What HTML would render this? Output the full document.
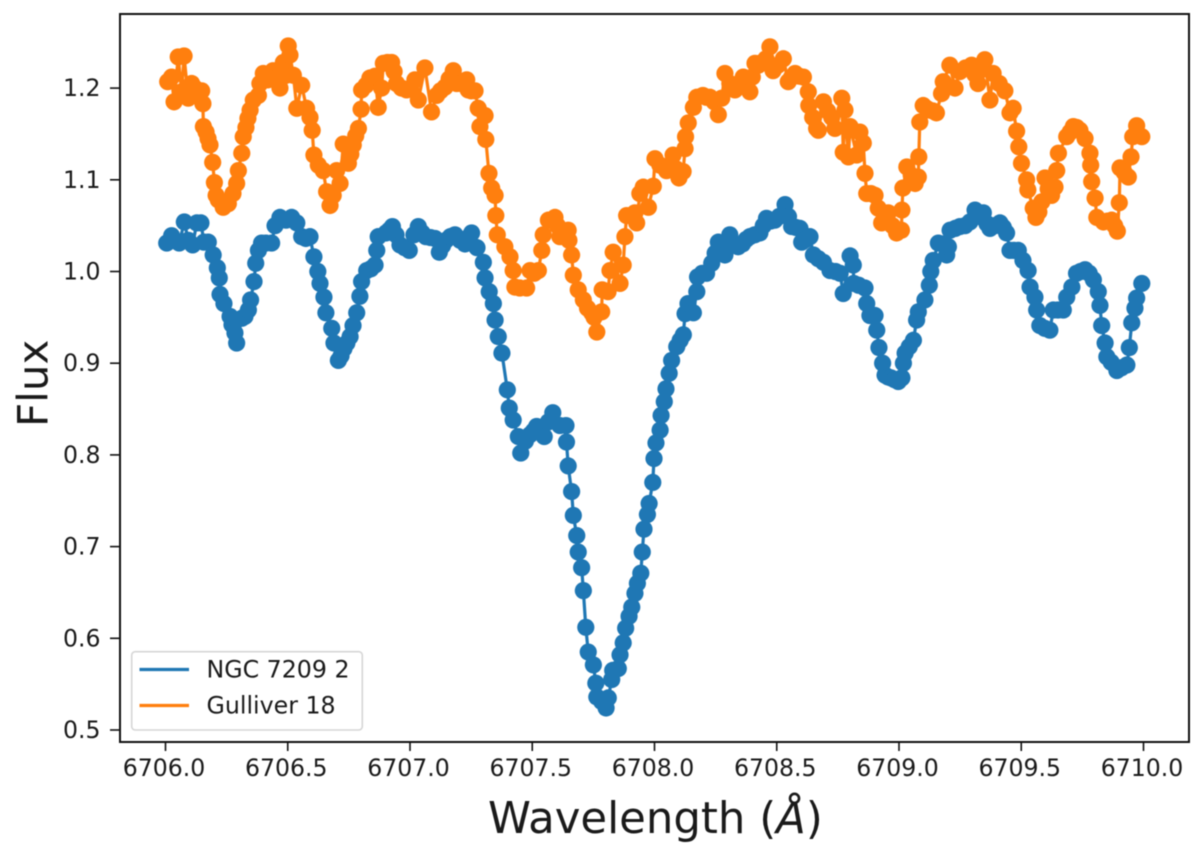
<!DOCTYPE html>
<html lang="en">
<head>
<meta charset="utf-8">
<title>Flux versus wavelength</title>
<style>
html,body{margin:0;padding:0;background:#fff;width:1200px;height:845px;overflow:hidden}
svg{display:block;position:absolute;left:0;top:0;filter:blur(0.5px)}
text{font-family:"DejaVu Sans","Liberation Sans",sans-serif;fill:#1a1a1a}
</style>
</head>
<body>
<svg id="chart" width="1200" height="845" viewBox="0 0 1200 845" xmlns="http://www.w3.org/2000/svg">
  <rect x="120" y="14" width="1069" height="728" fill="#fff"/>
  <g id="series-layer"></g>
  <rect x="120" y="14" width="1069" height="728" fill="none" stroke="#111" stroke-width="2"/>
  <g id="x-axis"></g>
  <g id="y-axis"></g>
  <text x="488" y="833" font-size="43.4" fill="#111">Wavelength (<tspan font-style="italic">Å</tspan>)</text>
  <text transform="translate(47.5 427) rotate(-90)" font-size="42" fill="#111">Flux</text>
  <g>
    <rect x="131.7" y="651.7" width="230.6" height="78.3" rx="3.5" fill="#fff" fill-opacity="0.8" stroke="#d6d6d6" stroke-width="1.6"/>
    <line x1="139.5" y1="669.5" x2="189" y2="669.5" stroke="#1f77b4" stroke-width="3.2"/>
    <text x="206.5" y="677.5" font-size="23.7">NGC 7209 2</text>
    <line x1="139.5" y1="705.5" x2="189" y2="705.5" stroke="#ff7f0e" stroke-width="3.2"/>
    <text x="206.5" y="713.5" font-size="23.7">Gulliver 18</text>
  </g>
</svg>
<script>
const xTicks = [6706, 6706.5, 6707, 6707.5, 6708, 6708.5, 6709, 6709.5, 6710];
const xTickLabels = ["6706.0", "6706.5", "6707.0", "6707.5", "6708.0", "6708.5", "6709.0", "6709.5", "6710.0"];
const yTicks = [0.5, 0.6, 0.7, 0.8, 0.9, 1.0, 1.1, 1.2];
const yTickLabels = ["0.5", "0.6", "0.7", "0.8", "0.9", "1.0", "1.1", "1.2"];

const ngcWavelengthOffset = [.005,.025,.056,.077,.093,.111,.128,.145,.157,.175,.195,.212,.220,.223,.239,.264,.272,.284,.291,.312,.339,.348,.362,.369,.380,.393,.411,.434,.448,.468,.493,.516,.537,.557,.591,.607,.623,.632,.648,.656,.680,.689,.707,.730,.755,.767,.782,.795,.802,.823,.857,.864,.870,.902,.928,.943,.959,.997,1.016,1.034,1.065,1.102,1.120,1.147,1.184,1.225,1.252,1.274,1.300,1.307,1.341,1.348,1.361,1.376,1.398,1.406,1.422,1.443,1.453,1.491,1.518,1.549,1.566,1.584,1.613,1.638,1.640,1.647,1.661,1.668,1.682,1.688,1.702,1.709,1.719,1.729,1.750,1.760,1.764,1.784,1.802,1.811,1.825,1.829,1.852,1.859,1.872,1.882,1.896,1.907,1.920,1.930,1.944,1.950,1.957,1.971,1.978,1.993,1.998,2.006,2.023,2.027,2.040,2.047,2.060,2.070,2.091,2.118,2.125,2.137,2.159,2.173,2.176,2.213,2.234,2.261,2.288,2.308,2.342,2.390,2.431,2.458,2.492,2.534,2.561,2.595,2.602,2.636,2.650,2.691,2.718,2.759,2.772,2.800,2.813,2.815,2.861,2.868,2.881,2.902,2.909,2.918,2.933,2.943,2.967,2.997,3.012,3.018,3.025,3.059,3.072,3.079,3.106,3.124,3.130,3.140,3.161,3.195,3.202,3.209,3.249,3.290,3.311,3.345,3.372,3.413,3.440,3.454,3.488,3.507,3.528,3.536,3.556,3.563,3.576,3.617,3.631,3.672,3.686,3.707,3.726,3.761,3.795,3.815,3.822,3.829,3.843,3.850,3.868,3.891,3.932,3.942,3.952,3.965,3.972,3.993,
  .325,.574,.718,.742,.84,.915,.978,1.05,1.084,1.133,1.165,1.205,1.238,1.324,1.472,1.505,1.533,2.105,2.195,2.248,2.275,2.325,2.36,2.375,2.41,2.445,2.475,2.51,2.548,2.578,2.62,2.67,2.74,2.835,2.955,2.982,3.042,3.178,3.23,3.27,3.328,3.36,3.392,3.427,3.47,3.596,3.65,3.743,3.778,3.91];
const ngcFlux = [1.031,1.039,1.031,1.054,1.034,1.029,1.053,1.053,1.032,1.032,1.018,1.004,.993,.975,.965,.951,.942,.933,.922,.949,.958,.969,.989,1.009,1.023,1.031,1.031,1.031,1.050,1.059,1.056,1.059,1.053,1.038,1.038,1.016,1.000,.987,.972,.955,.938,.922,.903,.916,.929,.941,.955,.973,.989,1.001,1.007,1.023,1.038,1.042,1.049,1.040,1.029,1.023,1.040,1.049,1.038,1.036,1.021,1.034,1.040,1.030,1.042,1.026,1.010,.993,.965,.947,.929,.911,.871,.851,.838,.820,.802,.822,.831,.820,.836,.846,.832,.832,.814,.788,.760,.734,.712,.694,.677,.652,.612,.585,.571,.551,.536,.531,.524,.535,.555,.565,.567,.582,.595,.611,.624,.634,.649,.660,.671,.694,.719,.735,.747,.770,.796,.813,.827,.843,.858,.872,.889,.903,.918,.931,.954,.965,.955,.978,.994,.998,1.009,1.032,1.018,1.040,1.027,1.038,1.042,1.058,1.056,1.073,1.049,1.047,1.032,1.038,1.018,1.010,1.001,.998,.976,1.017,1.007,.987,.982,.965,.952,.952,.936,.917,.900,.887,.884,.880,.884,.900,.911,.925,.947,.956,.969,.985,1.000,1.012,1.031,1.018,1.027,1.045,1.049,1.054,1.067,1.064,1.047,1.053,1.042,1.023,1.023,1.012,1.001,.983,.972,.958,.941,.936,.958,.958,.972,.983,.998,1.002,.991,.978,.963,.941,.922,.907,.901,.892,.898,.917,.944,.960,.971,.987,
  .951,1.036,.908,.922,1.003,1.045,1.026,1.042,1.037,1.028,1.038,1.034,1.037,.978,.815,.826,.828,.925,.998,1.02,1.026,1.03,1.03,1.035,1.04,1.05,1.055,1.06,1.06,1.048,1.035,1.014,1.0,.985,.885,.882,.918,1.03,1.047,1.05,1.06,1.052,1.05,1.048,1.023,.938,.958,1.0,.998,.895];

const gulliverWavelengthOffset = [.009,.025,.035,.052,.066,.076,.093,.107,.133,.148,.153,.155,.166,.174,.182,.193,.200,.207,.216,.236,.257,.276,.291,.298,.312,.318,.329,.337,.346,.359,.380,.386,.400,.419,.440,.456,.468,.482,.493,.502,.509,.523,.537,.557,.577,.591,.600,.607,.625,.645,.659,.673,.686,.700,.714,.727,.748,.768,.789,.800,.802,.820,.836,.857,.870,.884,.891,.925,.945,.986,1.020,1.034,1.061,1.088,1.109,1.143,1.177,1.191,1.232,1.238,1.266,1.279,1.286,1.307,1.310,1.323,1.334,1.348,1.351,1.357,1.388,1.409,1.422,1.429,1.449,1.477,1.491,1.525,1.539,1.545,1.566,1.593,1.613,1.647,1.650,1.661,1.668,1.688,1.709,1.743,1.764,1.784,1.786,1.810,1.818,1.831,1.859,1.872,1.879,1.886,1.920,1.927,1.940,1.954,1.975,1.995,2.002,2.022,2.049,2.076,2.100,2.117,2.125,2.127,2.138,2.159,2.173,2.198,2.227,2.261,2.275,2.288,2.329,2.363,2.390,2.411,2.440,2.472,2.485,2.527,2.547,2.575,2.609,2.629,2.631,2.663,2.670,2.691,2.725,2.738,2.766,2.772,2.779,2.793,2.800,2.827,2.840,2.854,2.861,2.868,2.902,2.915,2.929,2.956,2.990,3.010,3.012,3.016,3.032,3.066,3.079,3.081,3.085,3.099,3.125,3.153,3.174,3.181,3.208,3.229,3.249,3.297,3.323,3.351,3.372,3.385,3.433,3.454,3.467,3.481,3.490,3.501,3.522,3.527,3.549,3.560,3.584,3.597,3.624,3.638,3.645,3.652,3.686,3.713,3.740,3.761,3.781,3.784,3.788,3.802,3.809,3.836,3.870,3.893,3.901,3.904,3.938,3.949,3.956,3.972,3.993,
  .12,.758,.778,.908,.935,.965,1.003,1.125,1.16,1.21,1.25,1.508,1.603,1.63,1.726,1.753,2.062,2.088,2.212,2.244,2.308,2.346,2.376,2.40,2.425,2.456,2.505,2.561,2.592,2.647,2.708,2.885,2.973,3.05,3.112,3.14,3.272,3.31,3.337,3.41,3.572,3.61,3.70,3.727,3.853,3.882,3.921];
const gulliverFlux = [1.207,1.212,1.185,1.234,1.196,1.235,1.189,1.205,1.196,1.197,1.183,1.158,1.152,1.145,1.138,1.119,1.097,1.083,1.078,1.070,1.074,1.085,1.096,1.110,1.129,1.147,1.157,1.167,1.176,1.187,1.192,1.205,1.216,1.209,1.219,1.211,1.200,1.228,1.214,1.246,1.236,1.214,1.178,1.203,1.178,1.168,1.154,1.127,1.116,1.110,1.087,1.072,1.083,1.110,1.096,1.139,1.118,1.138,1.156,1.177,1.198,1.203,1.211,1.213,1.179,1.200,1.227,1.228,1.205,1.198,1.209,1.187,1.222,1.174,1.192,1.201,1.219,1.205,1.209,1.198,1.197,1.178,1.158,1.170,1.144,1.107,1.091,1.083,1.061,1.040,1.027,1.016,1.001,.983,.982,.982,1.001,1.001,1.023,1.040,1.056,1.059,1.038,1.045,1.034,1.018,.996,.980,.969,.955,.934,.956,.980,.978,1.001,1.021,.987,1.007,1.038,1.061,1.064,1.053,1.085,1.092,1.070,1.093,1.123,1.116,1.110,1.127,1.102,1.109,1.134,1.147,1.162,1.179,1.190,1.192,1.190,1.171,1.189,1.216,1.198,1.212,1.196,1.227,1.228,1.245,1.219,1.232,1.207,1.216,1.212,1.196,1.181,1.156,1.154,1.185,1.168,1.156,1.189,1.130,1.176,1.125,1.158,1.127,1.152,1.140,1.107,1.085,1.083,1.069,1.053,1.064,1.042,1.045,1.067,1.091,1.114,1.096,1.103,1.125,1.163,1.181,1.176,1.173,1.194,1.207,1.225,1.200,1.218,1.225,1.205,1.231,1.187,1.216,1.197,1.173,1.178,1.153,1.136,1.118,1.100,1.089,1.069,1.059,1.076,1.102,1.083,1.092,1.110,1.129,1.147,1.158,1.154,1.145,1.129,1.116,1.098,1.080,1.059,1.054,1.056,1.044,1.075,1.113,1.103,1.125,1.147,1.159,1.147,
  1.2,1.128,1.148,1.228,1.218,1.2,1.2,1.197,1.21,1.205,1.197,.998,1.05,1.04,.96,.95,1.115,1.112,1.19,1.185,1.205,1.205,1.205,1.212,1.225,1.232,1.225,1.212,1.213,1.168,1.175,1.085,1.05,1.105,1.178,1.175,1.222,1.215,1.22,1.205,1.065,1.09,1.152,1.157,1.055,1.05,1.108];

const baseWavelength = 6706;
const SVGNS = "http://www.w3.org/2000/svg";
const xScale = v => 165.5 + (v - 6706) * 244.5;
const yScale = v => 730 - (v - 0.5) * 917;
const svgEl = name => document.createElementNS(SVGNS, name);

function drawSeries(offsets, flux, color, seriesName) {
  const layer = document.getElementById("series-layer");
  const order = flux.map((f, i) => i).sort((a, b) => offsets[a] - offsets[b]);
  const group = svgEl("g");
  
  
  const line = svgEl("polyline");
  
  
  line.setAttribute("points", order.map(i => xScale(baseWavelength + offsets[i]).toFixed(2) + "," + yScale(flux[i]).toFixed(2)).join(" "));
  line.setAttribute("fill", "none");
  line.setAttribute("stroke", color);
  line.setAttribute("stroke-width", "3.2");
  line.setAttribute("stroke-linejoin", "round");
  group.appendChild(line);
  order.forEach(i => {
    const dot = svgEl("circle");
    
    
    dot.setAttribute("cx", xScale(baseWavelength + offsets[i]).toFixed(2));
    dot.setAttribute("cy", yScale(flux[i]).toFixed(2));
    dot.setAttribute("r", "8.6");
    dot.setAttribute("fill", color);
    group.appendChild(dot);
  });
  layer.appendChild(group);
}

function drawAxes() {
  const xAxis = document.getElementById("x-axis");
  xTicks.forEach((t, i) => {
    const mark = svgEl("line");
    
    
    mark.setAttribute("x1", xScale(t));
    mark.setAttribute("x2", xScale(t));
    mark.setAttribute("y1", 742);
    mark.setAttribute("y2", 751);
    mark.setAttribute("stroke", "#111");
    mark.setAttribute("stroke-width", "1.6");
    xAxis.appendChild(mark);
    const label = svgEl("text");
    
    
    label.setAttribute("x", xScale(t) - 1.5);
    label.setAttribute("y", 776);
    label.setAttribute("text-anchor", "middle");
    label.setAttribute("font-size", "23.6");
    label.textContent = xTickLabels[i];
    xAxis.appendChild(label);
  });
  const yAxis = document.getElementById("y-axis");
  yTicks.forEach((t, i) => {
    const mark = svgEl("line");
    
    
    mark.setAttribute("x1", 110);
    mark.setAttribute("x2", 120);
    mark.setAttribute("y1", yScale(t));
    mark.setAttribute("y2", yScale(t));
    mark.setAttribute("stroke", "#111");
    mark.setAttribute("stroke-width", "1.6");
    yAxis.appendChild(mark);
    const label = svgEl("text");
    
    
    label.setAttribute("x", 100.5);
    label.setAttribute("y", yScale(t) + 8);
    label.setAttribute("text-anchor", "end");
    label.setAttribute("font-size", "23.6");
    label.textContent = yTickLabels[i];
    yAxis.appendChild(label);
  });
}

drawSeries(ngcWavelengthOffset, ngcFlux, "#1f77b4", "series-ngc-7209-2");
drawSeries(gulliverWavelengthOffset, gulliverFlux, "#ff7f0e", "series-gulliver-18");
drawAxes();
</script>
</body>
</html>
